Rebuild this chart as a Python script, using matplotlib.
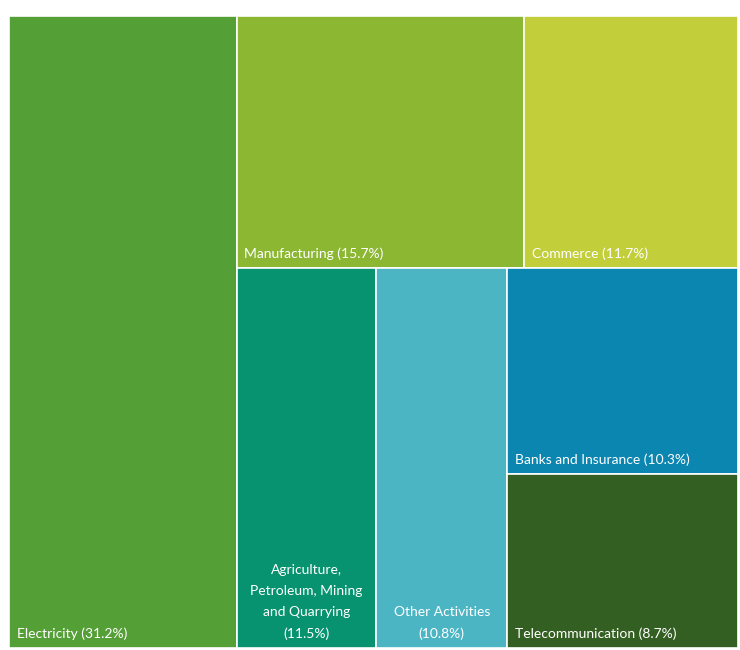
import matplotlib.pyplot as plt
from matplotlib.patches import Rectangle

sectors = ["Electricity", "Manufacturing", "Commerce",
           "Agriculture,\nPetroleum, Mining\nand Quarrying", "Other Activities",
           "Banks and Insurance", "Telecommunication"]
shares = [31.2, 15.7, 11.7, 11.5, 10.8, 10.3, 8.7]
colors = ["#559f37", "#8bb733", "#c2ce3a", "#07936f", "#4cb5c4", "#0b86b0", "#345f22"]
# labels that sit centred in their box, the rest go bottom-left
centred = {3, 4}


def split(x, y, w, h, vals, horizontal):
    """Cut a box into strips proportional to vals."""
    tot = sum(vals)
    out = []
    pos = x if horizontal else y
    for v in vals:
        f = v / tot
        if horizontal:
            out.append((pos, y, w * f, h))
            pos += w * f
        else:
            out.append((x, pos, w, h * f))
            pos += h * f
    return out


total = sum(shares)
# y runs top to bottom (axis inverted)
elec, rest = split(0, 0, 1, 1, [shares[0], total - shares[0]], True)
top, bottom = split(*rest, [shares[1] + shares[2], sum(shares[3:])], False)
manu, comm = split(*top, shares[1:3], True)
agri, other, fin = split(*bottom, [shares[3], shares[4], shares[5] + shares[6]], True)
banks, tele = split(*fin, shares[5:7], False)
rects = [elec, manu, comm, agri, other, banks, tele]

fig = plt.figure(figsize=(7.4, 6.5), dpi=100)
ax = fig.add_axes([9 / 740, 2 / 650, 729 / 740, 632 / 650])
ax.set_xlim(0, 1)
ax.set_ylim(1, 0)
ax.axis("off")

for i, (x, y, w, h) in enumerate(rects):
    ax.add_patch(Rectangle((x, y), w, h, facecolor=colors[i], edgecolor="white", linewidth=1.2))
    lab = sectors[i]
    if i in centred:
        txt = f"{lab}\n({shares[i]}%)"
        ax.annotate(txt, (x + w / 2, y + h), xytext=(0, 5.5), textcoords="offset points",
                    ha="center", va="bottom", color="white", fontsize=10,
                    family="Lato", linespacing=1.9)
    else:
        txt = f"{lab} ({shares[i]}%)"
        ax.annotate(txt, (x, y + h), xytext=(5.5, 5.5), textcoords="offset points",
                    ha="left", va="bottom", color="white", fontsize=10, family="Lato")

fig.savefig("out.png", dpi=100)
